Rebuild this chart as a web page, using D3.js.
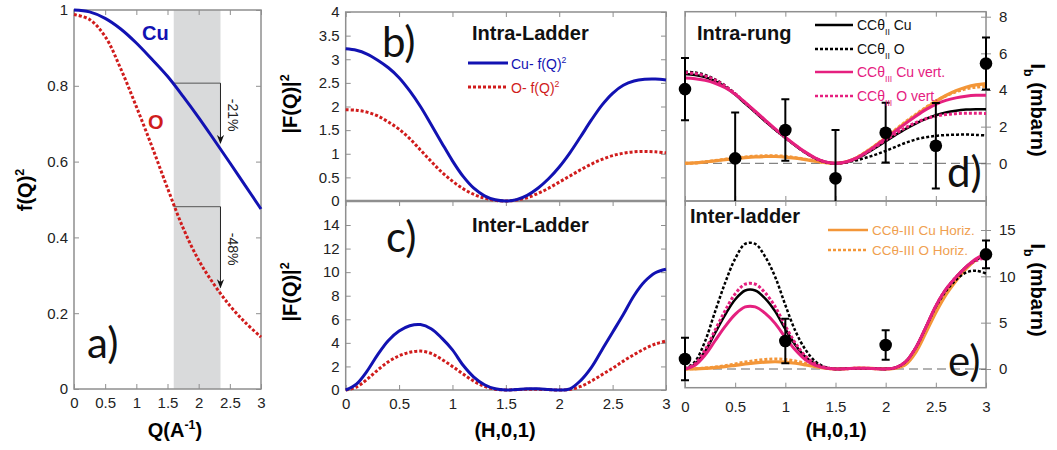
<!DOCTYPE html>
<html><head><meta charset="utf-8">
<script src="https://cdn.jsdelivr.net/npm/d3@7"></script>
<style>body{margin:0;background:#fff}svg{display:block}</style>
</head><body><svg id="c" width="1057" height="450"></svg>
<script>
// ---------- data ----------
const qGrid = [0,0.25,0.5,0.75,1,1.25,1.5,1.75,2,2.25,2.5,2.75,3];
const cuFQ2 = [1.0,0.995,0.978,0.95,0.913,0.87,0.825,0.772,0.716,0.657,0.597,0.536,0.475];
const oFQ2  = [0.988,0.975,0.93,0.845,0.745,0.64,0.53,0.425,0.34,0.275,0.22,0.175,0.137];
const bandQ = [1.6, 2.35];
const cuDrop = [0.807, 0.649];
const oDrop = [0.481, 0.268];
const dropLabels = ["-21%", "-48%"];

const hGrid = [0,0.1,0.2,0.3,0.4,0.5,0.6,0.7,0.8,0.9,1,1.1,1.2,1.3,1.4,1.5,1.6,1.7,1.8,1.9,2,2.1,2.2,2.3,2.4,2.5,2.6,2.7,2.8,2.9,3];
const intraCu = [3.22,3.19,3.11,2.98,2.82,2.61,2.33,2.00,1.62,1.23,0.85,0.52,0.27,0.11,0.025,0,0.03,0.12,0.27,0.47,0.72,1.02,1.36,1.71,2.03,2.28,2.45,2.54,2.575,2.58,2.56];
const intraO  = [1.93,1.92,1.88,1.80,1.67,1.52,1.32,1.08,0.84,0.61,0.42,0.26,0.14,0.06,0.015,0,0.02,0.07,0.16,0.27,0.40,0.53,0.66,0.78,0.88,0.96,1.01,1.04,1.05,1.04,1.02];
const interCu = [0,0.5,1.6,3.0,4.2,5.0,5.45,5.55,5.2,4.4,3.4,2.1,1.1,0.45,0.1,0,0.05,0.1,0.1,0.05,0,0.1,0.8,1.9,3.4,4.9,6.4,8.0,9.2,9.95,10.25];
const interO  = [0,0.25,0.9,1.7,2.4,2.9,3.2,3.3,3.1,2.6,2.0,1.35,0.75,0.3,0.07,0,0.03,0.06,0.06,0.03,0,0.05,0.3,0.75,1.3,1.85,2.45,3.0,3.5,3.9,4.15];

// panel d (intra-rung)
const dCuII  = [4.87,4.82,4.70,4.48,4.16,3.75,3.26,2.78,2.29,1.83,1.39,0.97,0.58,0.27,0.07,0,0.06,0.24,0.52,0.85,1.2,1.55,1.88,2.17,2.42,2.62,2.77,2.87,2.93,2.95,2.95];
const dOII   = [5.0,4.95,4.82,4.58,4.24,3.8,3.3,2.8,2.3,1.83,1.39,0.97,0.58,0.26,0.07,0,0.04,0.15,0.3,0.47,0.68,0.9,1.12,1.3,1.42,1.5,1.54,1.56,1.57,1.55,1.52];
const dCuIII = [4.65,4.62,4.53,4.37,4.12,3.77,3.33,2.85,2.36,1.88,1.43,1.0,0.61,0.29,0.08,0,0.07,0.27,0.58,0.95,1.35,1.77,2.18,2.57,2.93,3.22,3.43,3.57,3.66,3.71,3.72];
const dOIII  = [4.95,4.90,4.77,4.55,4.22,3.80,3.30,2.81,2.32,1.85,1.40,0.98,0.59,0.27,0.07,0,0.06,0.25,0.55,0.9,1.27,1.62,1.95,2.22,2.43,2.57,2.66,2.71,2.73,2.73,2.72];
const dCuH   = [0,0.02,0.07,0.13,0.2,0.26,0.31,0.35,0.37,0.37,0.34,0.28,0.2,0.11,0.04,0,0.07,0.27,0.6,0.98,1.38,1.8,2.22,2.62,3.0,3.38,3.7,3.96,4.15,4.28,4.35];
const dOH    = [0,0.02,0.08,0.15,0.22,0.29,0.35,0.39,0.41,0.41,0.38,0.31,0.22,0.12,0.04,0,0.07,0.28,0.62,1.0,1.42,1.85,2.27,2.67,3.05,3.4,3.68,3.9,4.06,4.16,4.2];
const dH   = [0,0.5,1,1.5,2,2.5,3];
const dVal = [4.05,0.27,1.82,-0.82,1.67,0.96,5.45];
const dErr = [1.7,2.5,1.68,2.64,1.63,2.33,1.42];

// panel e (inter-ladder)
const eCuII  = [0,0.52,1.9,3.9,5.85,7.5,8.47,8.47,7.6,6.2,4.3,2.6,1.3,0.52,0.13,0,0.03,0.08,0.08,0.04,0.01,0.15,0.8,2.3,4.5,6.8,8.6,9.9,11.0,11.8,12.2];
const eOII   = [0,0.8,3.0,6.2,9.3,11.9,13.5,13.5,12.1,9.9,6.9,4.1,2.1,0.8,0.2,0,0.03,0.08,0.08,0.04,0.01,0.15,0.8,2.3,4.5,6.7,8.4,9.6,10.4,10.6,10.3];
const eCuIII = [0,0.41,1.5,3.05,4.6,5.9,6.7,6.7,6.0,4.9,3.4,2.05,1.0,0.4,0.1,0,0.03,0.08,0.08,0.04,0.01,0.15,0.8,2.3,4.5,6.8,8.6,9.9,11.0,11.9,12.4];
const eOIII  = [0,0.56,2.05,4.2,6.3,8.1,9.15,9.15,8.2,6.7,4.65,2.8,1.4,0.56,0.14,0,0.03,0.08,0.08,0.04,0.01,0.15,0.8,2.3,4.5,6.8,8.6,9.9,11.0,11.7,12.0];
const eCuH   = [0,0.02,0.07,0.15,0.26,0.4,0.54,0.66,0.75,0.78,0.74,0.62,0.44,0.24,0.08,0,0.03,0.08,0.08,0.04,0.01,0.08,0.5,1.8,3.9,6.1,8.0,9.5,10.8,11.8,12.5];
const eOH    = [0,0.03,0.1,0.21,0.36,0.55,0.75,0.91,1.03,1.08,1.02,0.86,0.61,0.33,0.11,0,0.03,0.08,0.08,0.04,0.01,0.1,0.6,2.0,4.1,6.3,8.2,9.6,10.9,11.8,12.4];
const eH   = [0,1,2,3];
const eVal = [1.08,3.02,2.59,12.37];
const eErr = [2.3,2.4,1.6,1.5];

// tick labels
const qTicks = [0,0.5,1,1.5,2,2.5,3];
const fTicks = [0,0.2,0.4,0.6,0.8,1];
const hTicks = [0,0.5,1,1.5,2,2.5,3];
const bTicks = [0,0.5,1,1.5,2,2.5,3,3.5,4];
const cTicks = [0,2,4,6,8,10,12,14];
const dTicks = [0,2,4,6,8];
const eTicks = [0,5,10,15];

// ---------- drawing ----------
const FONT = '"Liberation Sans", Arial, sans-serif';
const BIG = 'Lato, "Open Sans", sans-serif';
const BLUE = "#1212b2", RED = "#d01c1c", MAG = "#e5207f", ORG = "#f39638", BLK = "#000";
const AXC = "#8f8f8f";
const svg = d3.select("#c");
const fmt = d => String(d);

function sty(g, size){
  g.attr("font-family", FONT).attr("font-size", size || 15);
  g.select(".domain").remove();
  g.selectAll(".tick line").attr("stroke", AXC).attr("stroke-width", 1);
  g.selectAll(".tick text").attr("fill", "#222");
  return g;
}
function frame(x0,y0,x1,y1){
  svg.append("rect").attr("x",x0).attr("y",y0).attr("width",x1-x0).attr("height",y1-y0)
    .attr("fill","none").attr("stroke",AXC).attr("stroke-width",1.5);
}
function curve(g, xs, ys, x, y, color, w, dash){
  const line = d3.line().x((d,i)=>x(xs[i])).y(d=>y(d)).curve(d3.curveCatmullRom.alpha(0.5));
  const p = g.append("path").attr("d", line(ys)).attr("fill","none").attr("stroke",color)
    .attr("stroke-width",w).attr("stroke-linejoin","round");
  if (dash) p.attr("stroke-dasharray", dash);
  return p;
}
function richText(g, x, y, parts, opts){
  const t = g.append("text").attr("x",x).attr("y",y).attr("font-family",opts.family||FONT)
    .attr("font-size",opts.size).attr("fill",opts.color||"#000");
  if (opts.weight) t.attr("font-weight",opts.weight);
  if (opts.anchor) t.attr("text-anchor",opts.anchor);
  if (opts.transform) t.attr("transform",opts.transform);
  let shift = 0;
  parts.forEach(p=>{
    const s = t.append("tspan").text(p.t);
    let want = p.sup ? -opts.size*0.42 : p.sub ? opts.size*0.35 : 0;
    if (want !== shift) { s.attr("dy", want - shift); shift = want; }
    if (p.sup || p.sub) s.attr("font-size", opts.size*0.62);
  });
  return t;
}

// ===== Panel a =====
const xa = d3.scaleLinear([0,3],[74,261]);
const ya = d3.scaleLinear([0,1],[389,10]);
svg.append("rect").attr("x",xa(bandQ[0])).attr("y",ya(1)).attr("width",xa(bandQ[1])-xa(bandQ[0]))
  .attr("height",ya(0)-ya(1)).attr("fill","#d9dadb");
sty(svg.append("g").attr("transform",`translate(0,${ya(0)})`)
  .call(d3.axisBottom(xa).tickValues(qTicks).tickFormat(fmt).tickSizeInner(-5).tickSizeOuter(0).tickPadding(8)));
sty(svg.append("g").attr("transform",`translate(0,${ya(1)})`)
  .call(d3.axisTop(xa).tickValues(qTicks).tickFormat("").tickSizeInner(-5).tickSizeOuter(0)));
sty(svg.append("g").attr("transform",`translate(${xa(0)},0)`)
  .call(d3.axisLeft(ya).tickValues(fTicks).tickFormat(fmt).tickSizeInner(-5).tickSizeOuter(0).tickPadding(6)));
sty(svg.append("g").attr("transform",`translate(${xa(3)},0)`)
  .call(d3.axisRight(ya).tickValues(fTicks).tickFormat("").tickSizeInner(-5).tickSizeOuter(0)));
frame(xa(0),ya(1),xa(3),ya(0));
// drop markers
const ga = svg.append("g");
svg.append("defs").html('<marker id="arr" viewBox="0 0 10 10" refX="9" refY="5" markerWidth="9" markerHeight="9" orient="auto"><path d="M0,1 L10,5 L0,9 L3,5 z" fill="#111"/></marker>');
[cuDrop, oDrop].forEach((dv,i)=>{
  ga.append("line").attr("x1",xa(bandQ[0])).attr("x2",xa(bandQ[1])).attr("y1",ya(dv[0])).attr("y2",ya(dv[0]))
    .attr("stroke","#555").attr("stroke-width",1);
  ga.append("line").attr("x1",xa(bandQ[1])).attr("x2",xa(bandQ[1])).attr("y1",ya(dv[0])).attr("y2",ya(dv[1]))
    .attr("stroke","#222").attr("stroke-width",1).attr("marker-end","url(#arr)");
  const my = (ya(dv[0])+ya(dv[1]))/2 + 2;
  ga.append("text").attr("transform",`translate(${xa(bandQ[1])+8},${my}) rotate(90)`)
    .attr("text-anchor","middle").attr("font-family",FONT).attr("font-size",14).attr("fill","#222").text(dropLabels[i]);
});
curve(ga, qGrid, oFQ2, xa, ya, RED, 3, "3,2");
curve(ga, qGrid, cuFQ2, xa, ya, BLUE, 3);
svg.append("text").attr("x",142).attr("y",40).attr("font-family",FONT).attr("font-weight","bold").attr("font-size",20).attr("fill",BLUE).text("Cu");
svg.append("text").attr("x",148).attr("y",129).attr("font-family",FONT).attr("font-weight","bold").attr("font-size",20).attr("fill",RED).text("O");
svg.append("text").attr("x",87).attr("y",358).attr("font-family",BIG).attr("font-size",42).attr("fill","#111").text("a)");
richText(svg, 0, 0, [{t:"f(Q)"},{t:"2",sup:true}], {size:20, weight:"bold", anchor:"middle", transform:"translate(32,190) rotate(-90)"});
richText(svg, 175, 437, [{t:"Q(A"},{t:"-1",sup:true},{t:")"}], {size:20, weight:"bold", anchor:"middle"});

// ===== Panels b, c =====
const xb = d3.scaleLinear([0,3],[345.7,666]);
const yb = d3.scaleLinear([0,4],[201,12]);
const yc = d3.scaleLinear([0,14],[390,225]);
const cTop = 201, cBot = 390;
sty(svg.append("g").attr("transform",`translate(${xb(0)},0)`)
  .call(d3.axisLeft(yb).tickValues(bTicks).tickFormat(fmt).tickSizeInner(-5).tickSizeOuter(0).tickPadding(6)));
sty(svg.append("g").attr("transform",`translate(${xb(3)},0)`)
  .call(d3.axisRight(yb).tickValues(bTicks).tickFormat("").tickSizeInner(-5).tickSizeOuter(0)));
sty(svg.append("g").attr("transform",`translate(0,${yb(4)})`)
  .call(d3.axisTop(xb).tickValues(hTicks).tickFormat("").tickSizeInner(-5).tickSizeOuter(0)));
sty(svg.append("g").attr("transform",`translate(0,${cTop})`)
  .call(d3.axisBottom(xb).tickValues(hTicks).tickFormat("").tickSizeInner(5).tickSizeOuter(0)));
sty(svg.append("g").attr("transform",`translate(${xb(0)},0)`)
  .call(d3.axisLeft(yc).tickValues(cTicks).tickFormat(fmt).tickSizeInner(-5).tickSizeOuter(0).tickPadding(6)));
sty(svg.append("g").attr("transform",`translate(${xb(3)},0)`)
  .call(d3.axisRight(yc).tickValues(cTicks).tickFormat("").tickSizeInner(-5).tickSizeOuter(0)));
sty(svg.append("g").attr("transform",`translate(0,${cBot})`)
  .call(d3.axisBottom(xb).tickValues(hTicks).tickFormat(fmt).tickSizeInner(-5).tickSizeOuter(0).tickPadding(8)));
frame(xb(0),yb(4),xb(3),yb(0));
frame(xb(0),cTop,xb(3),cBot);
svg.append("line").attr("x1",xb(0)).attr("x2",xb(3)).attr("y1",yb(0)).attr("y2",yb(0)).attr("stroke",AXC).attr("stroke-width",2.5);
const gb = svg.append("g");
curve(gb, hGrid, intraO, xb, yb, RED, 3, "3,2");
curve(gb, hGrid, intraCu, xb, yb, BLUE, 3);
const gc = svg.append("g");
curve(gc, hGrid, interO, xb, yc, RED, 3, "3,2");
curve(gc, hGrid, interCu, xb, yc, BLUE, 3);
// legend b
gb.append("line").attr("x1",468).attr("x2",508).attr("y1",63).attr("y2",63).attr("stroke",BLUE).attr("stroke-width",3);
gb.append("line").attr("x1",468).attr("x2",508).attr("y1",87).attr("y2",87).attr("stroke",RED).attr("stroke-width",3).attr("stroke-dasharray","3,2");
richText(svg, 511, 69, [{t:"Cu- f(Q)"},{t:"2",sup:true}], {size:14, color:BLUE});
richText(svg, 511, 93, [{t:"O- f(Q)"},{t:"2",sup:true}], {size:14, color:RED});
svg.append("text").attr("x",472).attr("y",40).attr("font-family",FONT).attr("font-weight","bold").attr("font-size",20).attr("fill","#111").text("Intra-Ladder");
svg.append("text").attr("x",472).attr("y",232).attr("font-family",FONT).attr("font-weight","bold").attr("font-size",20).attr("fill","#111").text("Inter-Ladder");
svg.append("text").attr("x",382).attr("y",57).attr("font-family",BIG).attr("font-size",42).attr("fill","#111").text("b)");
svg.append("text").attr("x",386).attr("y",252).attr("font-family",BIG).attr("font-size",42).attr("fill","#111").text("c)");
richText(svg, 0, 0, [{t:"|F(Q)|"},{t:"2",sup:true}], {size:20, weight:"bold", anchor:"middle", transform:"translate(297,104) rotate(-90)"});
richText(svg, 0, 0, [{t:"|F(Q)|"},{t:"2",sup:true}], {size:20, weight:"bold", anchor:"middle", transform:"translate(297,292) rotate(-90)"});
richText(svg, 505, 437, [{t:"(H,0,1)"}], {size:20, weight:"bold", anchor:"middle"});

// ===== Panels d, e =====
const xd = d3.scaleLinear([0,3],[685,986]);
const yd = d3.scaleLinear([0,8],[163.3,16.7]);
const ye = d3.scaleLinear([0,15],[369,230]);
const dTop = 11.7, dBot = 201, eBot = 387.7;
svg.append("defs").html(`<clipPath id="clipD"><rect x="600" y="${dTop}" width="420" height="${dBot-dTop}"/></clipPath><clipPath id="clipE"><rect x="600" y="${dBot}" width="420" height="${eBot-dBot}"/></clipPath>`);
function rightAxis(y, ticks){
  const g = sty(svg.append("g").attr("transform",`translate(${xd(3)},0)`)
    .call(d3.axisRight(y).tickValues(ticks).tickFormat(fmt).tickSizeInner(5).tickSizeOuter(0).tickPadding(8)));
  g.selectAll(".tick line").attr("x1",-5).attr("x2",5);
}
rightAxis(yd, dTicks);
rightAxis(ye, eTicks);
sty(svg.append("g").attr("transform",`translate(0,${dTop})`)
  .call(d3.axisTop(xd).tickValues(hTicks).tickFormat("").tickSizeInner(-5).tickSizeOuter(0)));
const mid = sty(svg.append("g").attr("transform",`translate(0,${dBot})`)
  .call(d3.axisBottom(xd).tickValues(hTicks).tickFormat("").tickSizeInner(5).tickSizeOuter(0)));
mid.selectAll(".tick line").attr("y1",-5).attr("y2",5);
sty(svg.append("g").attr("transform",`translate(0,${eBot})`)
  .call(d3.axisBottom(xd).tickValues(hTicks).tickFormat(fmt).tickSizeInner(-5).tickSizeOuter(0).tickPadding(14)));
frame(xd(0),dTop,xd(3),dBot);
frame(xd(0),dBot,xd(3),eBot);

function theoryPanel(clip, y, s){
  const g = svg.append("g").attr("clip-path",`url(#${clip})`);
  g.append("line").attr("x1",xd(0)).attr("x2",xd(3)).attr("y1",y(0)).attr("y2",y(0))
    .attr("stroke","#666").attr("stroke-width",1).attr("stroke-dasharray","9,5");
  curve(g, hGrid, s.cuH, xd, y, ORG, 3.2);
  curve(g, hGrid, s.oH, xd, y, ORG, 3, "3,2");
  curve(g, hGrid, s.cuII, xd, y, BLK, 2.5);
  curve(g, hGrid, s.oII, xd, y, BLK, 2.5, "3,2");
  curve(g, hGrid, s.cuIII, xd, y, MAG, 3);
  curve(g, hGrid, s.oIII, xd, y, MAG, 3, "3,2");
  return g;
}
function points(g, y, hs, vals, errs){
  hs.forEach((h,i)=>{
    const x = xd(h), y1 = y(vals[i]+errs[i]), y0 = y(vals[i]-errs[i]);
    g.append("line").attr("x1",x).attr("x2",x).attr("y1",y1).attr("y2",y0).attr("stroke","#000").attr("stroke-width",2);
    [y1,y0].forEach(yy=>g.append("line").attr("x1",x-4).attr("x2",x+4).attr("y1",yy).attr("y2",yy).attr("stroke","#000").attr("stroke-width",2));
    g.append("circle").attr("cx",x).attr("cy",y(vals[i])).attr("r",6.3).attr("fill","#000");
  });
}
const gd = theoryPanel("clipD", yd, {cuII:dCuII,oII:dOII,cuIII:dCuIII,oIII:dOIII,cuH:dCuH,oH:dOH});
points(gd, yd, dH, dVal, dErr);
const ge = theoryPanel("clipE", ye, {cuII:eCuII,oII:eOII,cuIII:eCuIII,oIII:eOIII,cuH:eCuH,oH:eOH});
points(ge, ye, eH, eVal, eErr);

// legends d
const legD = [
  {c:BLK, dash:null, parts:[{t:"CCθ"},{t:"II",sub:true},{t:" Cu"}]},
  {c:BLK, dash:"3,2", parts:[{t:"CCθ"},{t:"II",sub:true},{t:" O"}]},
  {c:MAG, dash:null, parts:[{t:"CCθ"},{t:"III",sub:true},{t:" Cu vert."}]},
  {c:MAG, dash:"3,2", parts:[{t:"CCθ"},{t:"III",sub:true},{t:" O vert."}]}
];
const legDY = [25,49,72,96];
legD.forEach((l,i)=>{
  const ln = svg.append("line").attr("x1",815).attr("x2",853).attr("y1",legDY[i]).attr("y2",legDY[i]).attr("stroke",l.c).attr("stroke-width",2.5);
  if (l.dash) ln.attr("stroke-dasharray",l.dash);
  richText(svg, 857, legDY[i]+5, l.parts, {size:14, color: l.c===BLK ? "#111" : MAG});
});
const legE = [{dash:null, t:"CCθ-III Cu Horiz."},{dash:"3,2", t:"CCθ-III O Horiz."}];
const legEY = [230, 250];
legE.forEach((l,i)=>{
  const ln = svg.append("line").attr("x1",828).attr("x2",868).attr("y1",legEY[i]).attr("y2",legEY[i]).attr("stroke",ORG).attr("stroke-width",2.5);
  if (l.dash) ln.attr("stroke-dasharray",l.dash);
  svg.append("text").attr("x",872).attr("y",legEY[i]+5).attr("font-family",FONT).attr("font-size",13.5).attr("fill","#f0a050").text(l.t);
});
svg.append("text").attr("x",697).attr("y",40).attr("font-family",FONT).attr("font-weight","bold").attr("font-size",20).attr("fill","#111").text("Intra-rung");
svg.append("text").attr("x",690).attr("y",223).attr("font-family",FONT).attr("font-weight","bold").attr("font-size",20).attr("fill","#111").text("Inter-ladder");
svg.append("text").attr("x",947).attr("y",187).attr("font-family",BIG).attr("font-size",42).attr("fill","#111").text("d)");
svg.append("text").attr("x",948).attr("y",376).attr("font-family",BIG).attr("font-size",42).attr("fill","#111").text("e)");
richText(svg, 0, 0, [{t:"I"},{t:"b",sub:true},{t:" (mbarn)"}], {size:20, weight:"bold", anchor:"middle", transform:"translate(1031,110) rotate(90)"});
richText(svg, 0, 0, [{t:"I"},{t:"b",sub:true},{t:" (mbarn)"}], {size:20, weight:"bold", anchor:"middle", transform:"translate(1031,290) rotate(90)"});
richText(svg, 836, 437, [{t:"(H,0,1)"}], {size:20, weight:"bold", anchor:"middle"});
</script>
</body></html>
